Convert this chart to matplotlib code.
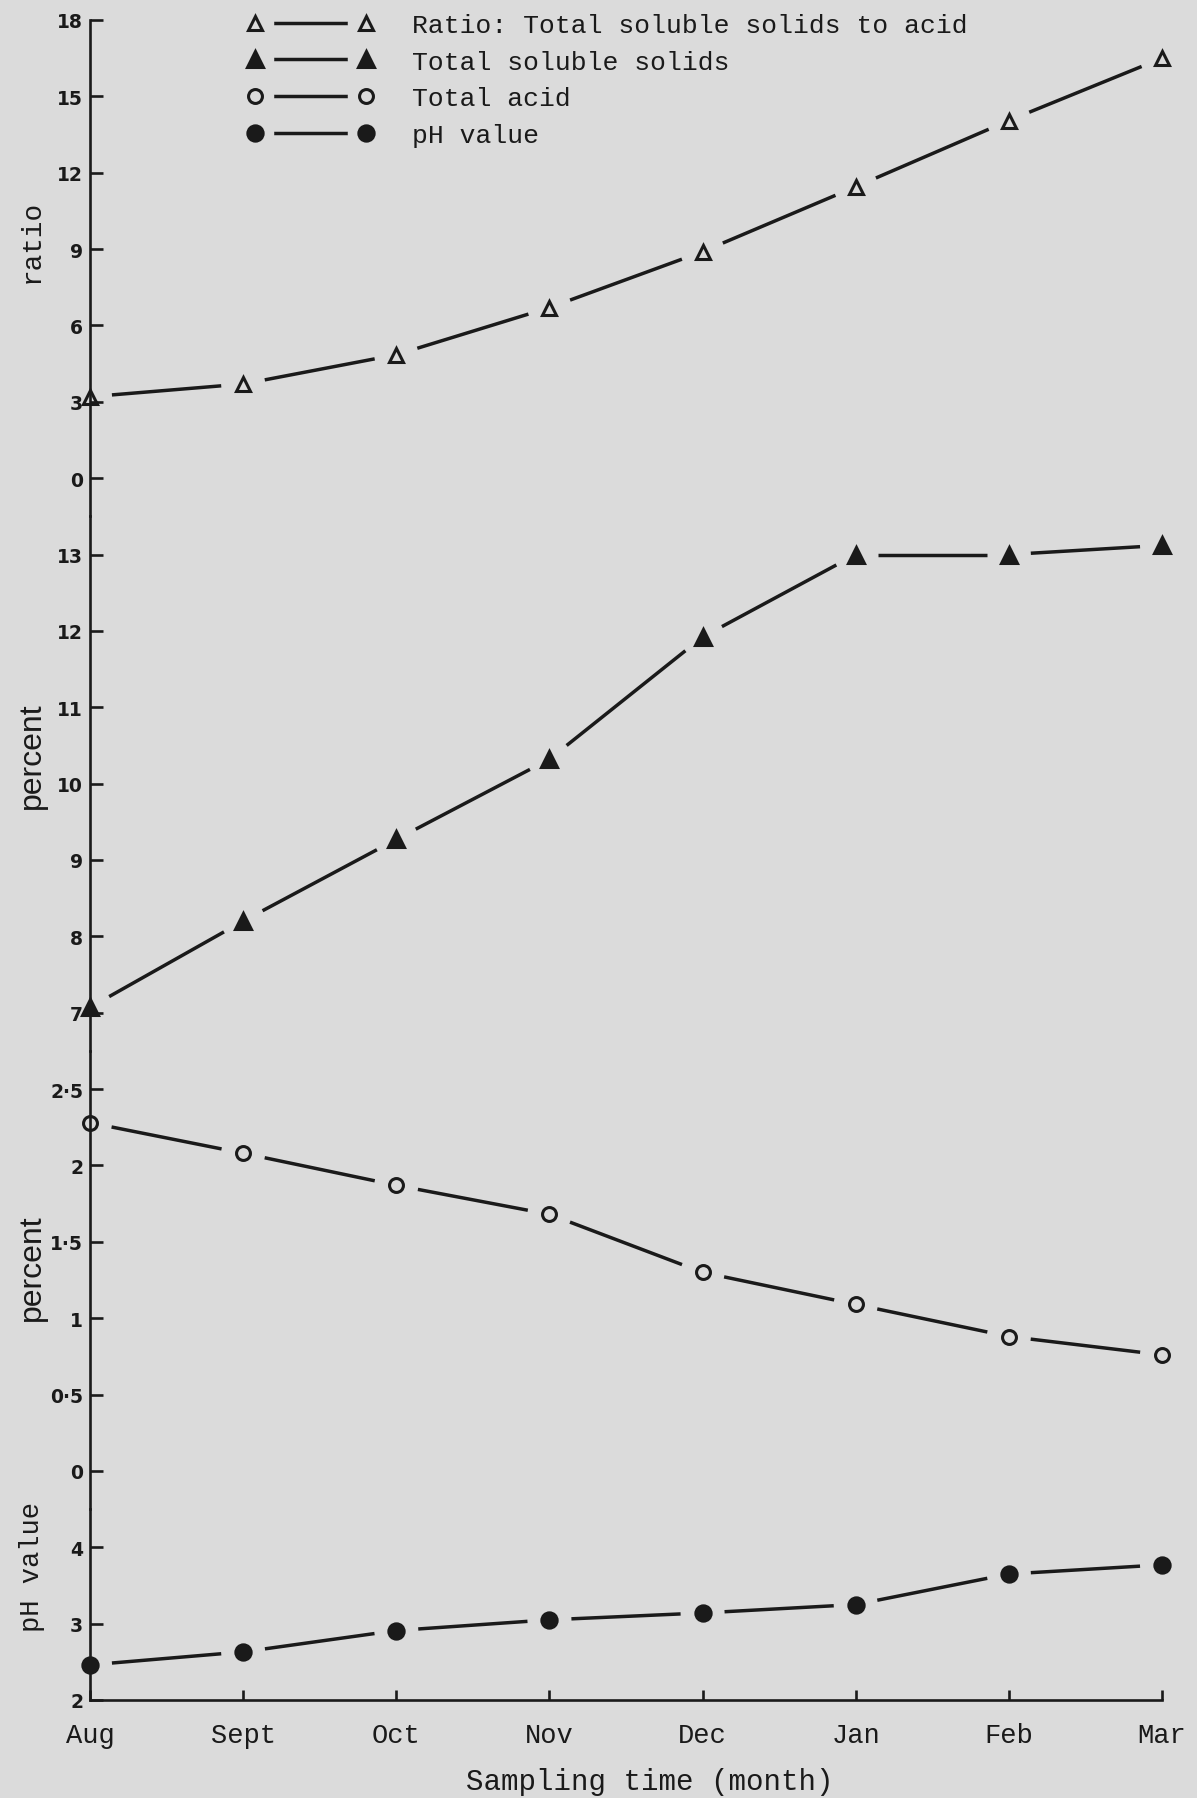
import numpy as np
import matplotlib.pyplot as plt
from matplotlib.lines import Line2D
from matplotlib.collections import LineCollection
from matplotlib.legend_handler import HandlerTuple

# values
months = ['Aug', 'Sept', 'Oct', 'Nov', 'Dec', 'Jan', 'Feb', 'Mar']
ratio = [3.2, 3.7, 4.85, 6.7, 8.9, 11.45, 14.05, 16.5]
soluble_solids = [7.07, 8.2, 9.27, 10.32, 11.92, 13.0, 13.0, 13.12]
total_acid = [2.28, 2.08, 1.87, 1.68, 1.30, 1.09, 0.88, 0.76]
ph_value = [2.46, 2.63, 2.91, 3.05, 3.14, 3.25, 3.65, 3.77]

ratio_ticks = [0, 3, 6, 9, 12, 15, 18]
solids_ticks = [7, 8, 9, 10, 11, 12, 13]
acid_ticks = [0, 0.5, 1, 1.5, 2, 2.5]
acid_ticklabels = ['0', '0·5', '1', '1·5', '2', '2·5']
ph_ticks = [2, 3, 4]

bg = '#dbdbdb'
ink = '#1a1a1a'
mono = 'Liberation Mono'
lw = 2.5

fig = plt.figure(figsize=(11.97, 17.99), dpi=100, facecolor=bg)
gs = fig.add_gridspec(4, 1, height_ratios=[6.5, 7, 6, 2.5], hspace=0,
                      left=90/1197, right=1162/1197,
                      top=1 - 21/1799, bottom=1 - 1701/1799)
axes = [fig.add_subplot(gs[i]) for i in range(4)]
ax_r, ax_s, ax_a, ax_p = axes
x = np.arange(len(months))

ax_r.set_ylim(-1.5, 18)
ax_s.set_ylim(6.5, 13.5)
ax_a.set_ylim(-0.25, 2.75)
ax_p.set_ylim(2, 4.5)
for ax in axes:
    ax.set_xlim(0, 7)


def draw(ax, y, marker, fill, ms, gap=22):
    # line segments that stop short of each marker (as drawn by hand)
    pts = ax.transData.transform(np.column_stack([x, y]))
    inv = ax.transData.inverted()
    segs = []
    for p0, p1 in zip(pts[:-1], pts[1:]):
        u = (p1 - p0) / np.hypot(*(p1 - p0))
        segs.append(inv.transform(np.array([p0 + u * gap, p1 - u * gap])))
    ax.add_collection(LineCollection(segs, colors=ink, linewidths=lw,
                                     capstyle='butt', clip_on=False))
    ax.plot(x, y, ls='none', marker=marker, ms=ms, mfc=fill, mec=ink,
            mew=2.2, zorder=4, clip_on=False)


draw(ax_r, ratio, '^', 'none', 10)
draw(ax_s, soluble_solids, '^', ink, 11.5)
draw(ax_a, total_acid, 'o', 'none', 10)
draw(ax_p, ph_value, 'o', ink, 11)

ax_r.set_yticks(ratio_ticks)
ax_s.set_yticks(solids_ticks)
ax_a.set_yticks(acid_ticks, acid_ticklabels)
ax_p.set_yticks(ph_ticks)

for ax in axes:
    ax.patch.set_visible(False)
    for s in ['top', 'right', 'bottom']:
        ax.spines[s].set_visible(False)
    ax.spines['left'].set_linewidth(1.9)
    ax.spines['left'].set_color(ink)
    ax.tick_params(axis='y', direction='in', length=9, width=1.9, pad=5,
                   labelsize=13.5, colors=ink)
    for lab in ax.get_yticklabels():
        lab.set_fontweight('bold')
    ax.tick_params(axis='x', bottom=False, labelbottom=False)

ax_p.spines['bottom'].set_visible(True)
ax_p.spines['bottom'].set_linewidth(1.9)
ax_p.spines['bottom'].set_color(ink)
ax_p.set_xticks(x, months)
ax_p.tick_params(axis='x', bottom=True, labelbottom=True, direction='in',
                 length=7, width=1.9, pad=16, colors=ink)
for lab in ax_p.get_xticklabels():
    lab.set_family(mono)
    lab.set_fontsize(19.5)

# axis titles
fig.text(32/1197, 1 - 241/1799, 'ratio', rotation=90, ha='center', va='center',
         family=mono, fontsize=20, color=ink)
fig.text(32/1197, 1 - 756/1799, 'percent', rotation=90, ha='center', va='center',
         family='Liberation Sans', fontsize=23, color=ink)
fig.text(32/1197, 1 - 1268/1799, 'percent', rotation=90, ha='center', va='center',
         family='Liberation Sans', fontsize=23, color=ink)
fig.text(32/1197, 1 - 1567/1799, 'pH value', rotation=90, ha='center', va='center',
         family=mono, fontsize=19.5, color=ink)
fig.text(650/1197, 1 - 1782/1799, 'Sampling time (month)', ha='center', va='center',
         family=mono, fontsize=21, color=ink)


# legend: marker at both ends of a short line, with small gaps
def handle(marker, fill, ms):
    return (Line2D([], [], color=ink, lw=lw),
            Line2D([], [], ls='none', marker='o', ms=26, color=bg),
            Line2D([], [], ls='none', marker=marker, ms=ms, mfc=fill, mec=ink, mew=2.2))


handles = [handle('^', 'none', 10), handle('^', ink, 11),
           handle('o', 'none', 10), handle('o', ink, 11)]
labels = ['Ratio: Total soluble solids to acid', 'Total soluble solids',
          'Total acid', 'pH value']
fig.legend(handles, labels, handler_map={tuple: HandlerTuple(ndivide=1, pad=0)},
           numpoints=2, loc='upper left', bbox_to_anchor=(247/1197, 1 - 14/1799),
           frameon=False, borderpad=0, borderaxespad=0, handlelength=4.8,
           handletextpad=1.45, labelspacing=0.48,
           prop={'family': mono, 'size': 19}, labelcolor=ink)

fig.savefig('out.png', dpi=100, facecolor=bg)
